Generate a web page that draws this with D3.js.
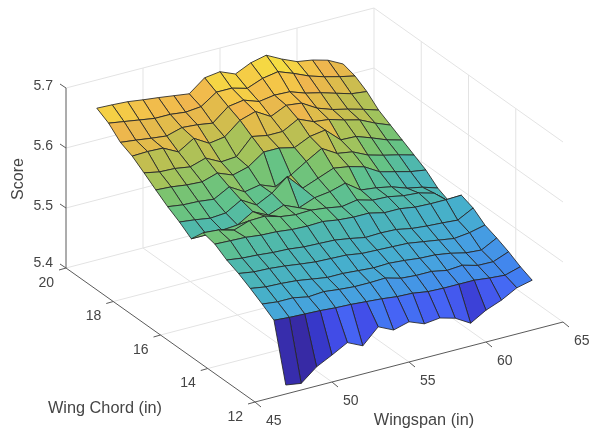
<!DOCTYPE html>
<html><head><meta charset="utf-8">
<script src="https://cdn.jsdelivr.net/npm/d3@7"></script>
<style>html,body{margin:0;padding:0;background:#fff}svg{display:block;filter:blur(0.55px)}text{font-family:"Liberation Sans",Arial,sans-serif;fill:#454545}</style>
</head><body><svg id="c" width="590" height="430"></svg>
<script>
const wingspans=[47,48,49,50,51,52,53,54,55,56,57,58,59,60,61,62,63];
const chords=[20,19.5,19,18.5,18,17.5,17,16.5,16,15.5,15,14.5,14,13.5,13,12.5,12];
const scoreAt20=[5.653,5.652,5.6505,5.647,5.644,5.6405,5.637,5.657,5.6605,5.65,5.662,5.668,5.655,5.644,5.64,5.633,5.62];
const scoreAt195=[5.642,5.638,5.634,5.63,5.63,5.627,5.6295,5.647,5.647,5.64,5.65,5.6545,5.645,5.634,5.626,5.6195,5.614];
const scoreAt19=[5.624,5.621,5.6175,5.6146,5.622,5.62,5.616,5.637,5.641,5.632,5.636,5.635,5.626,5.62,5.6125,5.605,5.602];
const scoreAt185=[5.615,5.616,5.615,5.602,5.618,5.603,5.607,5.628,5.636,5.621,5.633,5.63,5.615,5.606,5.6,5.593,5.585];
const scoreAt18=[5.601,5.596,5.595,5.591,5.599,5.586,5.588,5.615,5.61,5.61,5.624,5.613,5.61,5.6025,5.596,5.584,5.574];
const scoreAt175=[5.5865,5.585,5.5815,5.58,5.588,5.578,5.585,5.603,5.603,5.597,5.609,5.613,5.59,5.589,5.58,5.57,5.563];
const scoreAt17=[5.5726,5.569,5.568,5.565,5.579,5.564,5.569,5.559,5.572,5.588,5.603,5.588,5.584,5.572,5.565,5.559,5.552];
const scoreAt165=[5.561,5.558,5.554,5.556,5.571,5.556,5.569,5.59,5.564,5.574,5.584,5.58,5.573,5.558,5.5515,5.545,5.541];
const scoreAt16=[5.547,5.547,5.548,5.55,5.5655,5.553,5.563,5.552,5.562,5.5655,5.573,5.555,5.552,5.547,5.538,5.533,5.525];
const scoreAt155=[5.571,5.569,5.562,5.571,5.572,5.5645,5.561,5.562,5.559,5.5545,5.559,5.552,5.551,5.546,5.544,5.537,5.516];
const scoreAt15=[5.566,5.565,5.564,5.561,5.56,5.557,5.556,5.557,5.553,5.551,5.551,5.545,5.545,5.541,5.54,5.54,5.541];
const scoreAt145=[5.5535,5.55,5.5485,5.546,5.545,5.542,5.541,5.54,5.536,5.531,5.532,5.531,5.526,5.5235,5.522,5.52,5.5335];
const scoreAt14=[5.545,5.541,5.54,5.5375,5.534,5.531,5.53,5.529,5.525,5.524,5.523,5.522,5.518,5.514,5.51,5.513,5.519];
const scoreAt135=[5.534,5.53,5.529,5.527,5.523,5.519,5.519,5.517,5.515,5.516,5.514,5.511,5.51,5.506,5.5,5.498,5.5115];
const scoreAt13=[5.522,5.519,5.519,5.514,5.516,5.513,5.511,5.511,5.512,5.505,5.503,5.503,5.498,5.5,5.493,5.4925,5.5025];
const scoreAt125=[5.509,5.507,5.506,5.505,5.503,5.502,5.5,5.498,5.495,5.494,5.49,5.489,5.489,5.489,5.486,5.484,5.4915];
const scoreAt12=[5.415,5.411,5.432,5.445,5.459,5.447,5.472,5.46,5.467,5.457,5.46,5.453,5.438,5.453,5.463,5.477,5.483];
const scoreRows=[scoreAt20,scoreAt195,scoreAt19,scoreAt185,scoreAt18,scoreAt175,scoreAt17,scoreAt165,scoreAt16,scoreAt155,scoreAt15,scoreAt145,scoreAt14,scoreAt135,scoreAt13,scoreAt125,scoreAt12];
const xTicks=[45,50,55,60,65], yTicks=[12,14,16,18,20], zTicks=[5.4,5.5,5.6,5.7];
const colorStops=[0,.08,.13,.19,.27,.35,.42,.48,.53,.57,.63,.68,.74,.79,.84,.89,.96,1];
const colorValues=["rgb(55,42,165)","rgb(55,55,200)","rgb(65,75,230)","rgb(70,100,245)","rgb(65,130,240)","rgb(70,160,225)","rgb(70,175,205)","rgb(75,180,185)","rgb(80,185,170)","rgb(100,195,135)","rgb(125,195,110)","rgb(165,195,90)","rgb(195,190,80)","rgb(225,188,75)","rgb(240,182,78)","rgb(245,205,70)","rgb(245,225,65)","rgb(245,235,55)"];

const sx=d3.scaleLinear().domain([45,65]).range([0,308]);
const syh=d3.scaleLinear().domain([20,12]).range([0,189]);
const syv=d3.scaleLinear().domain([20,12]).range([0,134]);
const sxv=d3.scaleLinear().domain([45,65]).range([0,-80]);
const sz=d3.scaleLinear().domain([5.4,5.7]).range([0,-180]);
const ox=66, oy=268;
const P=(x,y,z)=>[ox+sx(x)+syh(y), oy+sxv(x)+syv(y)+sz(z)];
const line=d3.line();
const svg=d3.select("#c");
const xmin=45,xmax=65,ymin=12,ymax=20,zmin=5.4,zmax=5.7;
const gridCol="#e3e3e3";
function seg(p,q,col,w){svg.append("path").attr("d",line([p,q])).attr("stroke",col||gridCol).attr("stroke-width",w||1).attr("fill","none");}
zTicks.forEach(z=>{ if(z>zmin){seg(P(xmin,ymax,z),P(xmax,ymax,z));seg(P(xmax,ymax,z),P(xmax,ymin,z));}});
xTicks.forEach(x=>{ if(x>xmin&&x<xmax){seg(P(x,ymax,zmin),P(x,ymax,zmax));seg(P(x,ymax,zmin),P(x,ymin,zmin));}});
yTicks.forEach(y=>{ if(y>ymin&&y<ymax){seg(P(xmax,y,zmin),P(xmax,y,zmax));seg(P(xmin,y,zmin),P(xmax,y,zmin));}});
seg(P(xmin,ymax,zmin),P(xmax,ymax,zmin));seg(P(xmax,ymax,zmin),P(xmax,ymin,zmin));seg(P(xmax,ymax,zmin),P(xmax,ymax,zmax));

// surface
const all=scoreRows.flat();
const ext=d3.extent(all);
const cs=d3.scaleLinear().domain(colorStops.map(t=>ext[0]+(ext[1]-ext[0])*t)).range(colorValues).interpolate(d3.interpolateRgb).clamp(true);
const faces=[];
for(let r=0;r<chords.length-1;r++)for(let i=wingspans.length-2;i>=0;i--){
  const pts=[[r,i],[r,i+1],[r+1,i+1],[r+1,i]].map(([a,b])=>P(wingspans[b],chords[a],scoreRows[a][b]));
  faces.push({pts,c:scoreRows[r+1][i]});
}
svg.append("g").selectAll("path").data(faces).join("path")
 .attr("d",d=>line(d.pts)+"Z").attr("fill",d=>cs(d.c)).attr("stroke","#262626").attr("stroke-width",0.85).attr("stroke-linejoin","round");

// axes
const ax="#5a5a5a";
seg(P(xmin,ymax,zmin),P(xmin,ymax,zmax),ax);
seg(P(xmin,ymin,zmin),P(xmin,ymax,zmin),ax);
seg(P(xmin,ymin,zmin),P(xmax,ymin,zmin),ax);
const add=(p,a,b)=>[p[0]+a,p[1]+b];
zTicks.forEach(z=>{const p=P(xmin,ymax,z);seg(p,add(p,-6,-4),ax);
  svg.append("text").attr("x",p[0]-13).attr("y",p[1]-(z==5.4?6:3)+0).attr("dy","0.35em").attr("text-anchor","end").attr("font-size",14).text(d3.format(".1f")(z));});
yTicks.forEach(y=>{const p=P(xmin,y,zmin);seg(p,add(p,-7,2),ax);
  svg.append("text").attr("x",p[0]-12).attr("y",p[1]+14).attr("dy","0.35em").attr("text-anchor","end").attr("font-size",14).text(y);});
xTicks.forEach(x=>{const p=P(x,ymin,zmin);seg(p,add(p,6,5),ax);
  svg.append("text").attr("x",p[0]+11).attr("y",p[1]+18).attr("dy","0.35em").attr("font-size",14).text(x);});
svg.append("text").attr("x",424).attr("y",419).attr("dy","0.35em").attr("text-anchor","middle").attr("font-size",16.3).text("Wingspan (in)");
svg.append("text").attr("x",105).attr("y",407).attr("dy","0.35em").attr("text-anchor","middle").attr("font-size",16.3).text("Wing Chord (in)");
svg.append("text").attr("transform","translate(17,179) rotate(-90)").attr("dy","0.35em").attr("text-anchor","middle").attr("font-size",16).text("Score");
</script></body></html>
